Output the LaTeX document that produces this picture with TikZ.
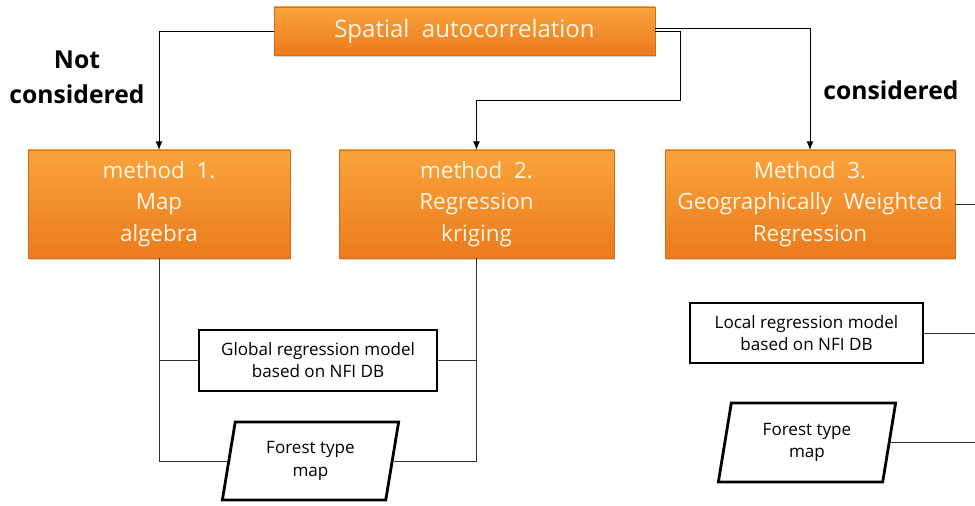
\documentclass[tikz,border=0pt]{standalone}
\usepackage{fontspec}
\setmainfont{Open Sans}
\usepackage{tikz}
\usetikzlibrary{shapes.geometric, arrows.meta, shadows}
\definecolor{boxtop}{HTML}{F9A43C}
\definecolor{boxbot}{HTML}{EC7A1C}
\definecolor{boxtext}{HTML}{FFF6E6}
\tikzstyle{orangebox} = [
  rectangle, top color=boxtop, bottom color=boxbot, draw=boxbot!90!black, line width=0.3pt,
  drop shadow={shadow xshift=1pt, shadow yshift=-1.5pt, opacity=0.35},
  text=boxtext, align=center, font=\fontsize{16.8}{23.5}\selectfont, inner sep=0pt
]
\tikzstyle{modelbox} = [
  rectangle, draw=black, line width=2.1pt, fill=white,
  align=center, font=\fontsize{12.8}{16.5}\selectfont, inner sep=0pt
]
\tikzstyle{mapbox} = [
  trapezium, trapezium left angle=79, trapezium right angle=101, trapezium stretches=true,
  draw=black, line width=2.1pt, fill=white,
  align=center, font=\fontsize{12.8}{17}\selectfont, inner sep=0pt
]
\tikzstyle{arrow} = [-{Latex[length=2.2mm, width=1.8mm]}, line width=0.6pt]
\tikzstyle{link} = [line width=0.6pt, draw=black!80]
\tikzstyle{tag} = [font=\fontsize{18.5}{26}\selectfont\bfseries, align=center]

\begin{document}
\begin{tikzpicture}[x=0.75pt, y=-0.75pt]
  \useasboundingbox (0,0) rectangle (975,506);

  \node[orangebox, minimum width=285.75pt, minimum height=36pt,
        font=\fontsize{18}{23.5}\selectfont] (spatial) at (464.5, 31) {Spatial\ \ autocorrelation};

  \node[orangebox, minimum width=196.5pt, minimum height=81pt] (m1) at (159, 204) {method\ \ 1.\\Map\\algebra};
  \node[orangebox, minimum width=206.25pt, minimum height=81pt] (m2) at (476.5, 204) {method\ \ 2.\\Regression\\kriging};
  \node[orangebox, minimum width=217.5pt, minimum height=81pt] (m3) at (810, 204) {Method\ \ 3.\\Geographically\ \ Weighted\\Regression};

  \node[modelbox, minimum width=178.5pt, minimum height=45.75pt] (global) at (318, 360.5) {Global regression model\\based on NFI DB};
  \node[mapbox, minimum width=132.75pt, minimum height=58.5pt] (forest1) at (310.5, 461) {Forest type\\map};

  \node[modelbox, minimum width=174.75pt, minimum height=45pt] (local) at (806.5, 333) {Local regression model\\based on NFI DB};
  \node[mapbox, minimum width=133.5pt, minimum height=59.25pt] (forest2) at (807, 442.5) {Forest type\\map};

  \node[tag] (notcons) at (77, 77) {Not\\considered};
  \node[tag] (cons) at (891, 90) {considered};

  % free ends at the right margin
  \coordinate (end3) at (975, 204);
  \coordinate (endlocal) at (975, 333);
  \coordinate (endforest) at (975, 442.5);

  \draw[arrow] (spatial.west) -| (m1.north);
  \draw[arrow] ([yshift=2pt]spatial.east) -| (m3.north);
  \draw[arrow] (spatial.east) -| ++(25, 69) -| (m2.north);

  \draw[link] (m1.south) |- (global.west);
  \draw[link] (m1.south) |- (forest1.west);
  \draw[link] (m2.south) |- (global.east);
  \draw[link] (m2.south) |- (forest1.east);

  \draw[link] (m3.east) -- (end3);
  \draw[link] (local.east) -- (endlocal);
  \draw[link] (forest2.east) -- (endforest);

\end{tikzpicture}
\end{document}
